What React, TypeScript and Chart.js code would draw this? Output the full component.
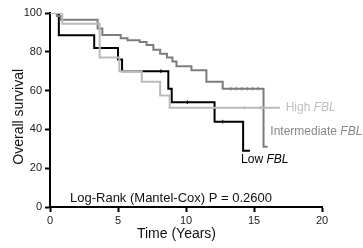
import React, { useEffect, useRef } from "react";
import { Chart, registerables } from "chart.js";

Chart.register(...registerables);

// ---- Data ----
const lowTimes = [0, 0.65, 3.25, 5.0, 5.3, 8.7, 8.95, 12.1, 14.2, 14.7];
const lowSurvival = [100, 88.5, 82, 76, 70, 61, 54, 44, 29, 29];

const intermediateTimes = [0, 0.5, 0.8, 3.5, 3.85, 5.2, 5.7, 6.6, 7.1, 7.6, 8.1, 8.6, 9.0, 9.3, 10.4, 11.5, 12.7, 15.7, 16.0];
const intermediateSurvival = [100, 98.5, 96.5, 92, 88.7, 87, 86, 85, 83.5, 81, 79, 77, 75, 72.5, 70.5, 64.5, 61, 31, 31];

const highTimes = [0, 0.9, 3.65, 5.1, 6.75, 8.1, 8.8, 16.9];
const highSurvival = [100, 94.5, 77, 70, 64.5, 57.5, 51.2, 51.2];

const lowCensorTimes = [8.15, 10.1, 12.7];
const lowCensorSurvival = [70, 54, 44];
const intermediateCensorTimes = [13.3, 13.7, 14.1, 14.5, 14.9, 15.3];
const intermediateCensorSurvival = [61, 61, 61, 61, 61, 61];
const highCensorTimes = [14.3, 15.5];
const highCensorSurvival = [51.2, 51.2];

const xTicks = [0, 5, 10, 15, 20];
const yTicks = [0, 20, 40, 60, 80, 100];

const xTitle = "Time (Years)";
const yTitle = "Overall survival";
const statText = "Log-Rank (Mantel-Cox) P = 0.2600";
const seriesNames = ["Low", "Intermediate", "High"];
const seriesSuffix = "FBL";

const COLORS = { low: "#000000", intermediate: "#7c7c7c", high: "#bababa" };
const FONT = "'Liberation Sans', Arial, Helvetica, sans-serif";

const toXY = (ts: number[], ss: number[]) => ts.map((t, i) => ({ x: t, y: ss[i] }));

const textPlugin = {
  id: "kmText",
  afterDraw(chart: any) {
    const { ctx, scales } = chart;
    const xs = scales.x;
    const ys = scales.y;
    ctx.save();
    // axis titles
    ctx.fillStyle = "#111";
    ctx.font = `14px ${FONT}`;
    ctx.textAlign = "center";
    ctx.textBaseline = "alphabetic";
    ctx.fillText(xTitle, xs.getPixelForValue(9.3), 238);
    ctx.save();
    ctx.translate(23, ys.getPixelForValue(46.5));
    ctx.rotate(-Math.PI / 2);
    ctx.fillText(yTitle, 0, 0);
    ctx.restore();
    // statistic
    ctx.font = `13px ${FONT}`;
    ctx.textAlign = "left";
    ctx.fillText(statText, xs.getPixelForValue(1.47), ys.getPixelForValue(2.6));

    // series labels
    const drawLabel = (name: string, color: string, t: number, s: number) => {
      const x = xs.getPixelForValue(t);
      const y = ys.getPixelForValue(s);
      ctx.fillStyle = color;
      ctx.textBaseline = "middle";
      ctx.textAlign = "left";
      ctx.font = `12px ${FONT}`;
      const first = name + " ";
      ctx.fillText(first, x, y);
      const w = ctx.measureText(first).width;
      ctx.font = `italic 12px ${FONT}`;
      ctx.fillText(seriesSuffix, x + w, y);
    };
    drawLabel(seriesNames[2], "#c0c0c0", 17.33, 51.2);
    drawLabel(seriesNames[1], "#888888", 16.2, 38.8);
    drawLabel(seriesNames[0], "#000000", 14.05, 24.2);
    ctx.restore();
  },
};

export default function App() {
  const ref = useRef<HTMLCanvasElement | null>(null);
  useEffect(() => {
    if (!ref.current) return;
    const lineDs = (label: string, ts: number[], ss: number[], color: string) => ({
      type: "line" as const,
      label,
      data: toXY(ts, ss),
      borderColor: color,
      borderWidth: 2,
      stepped: true,
      pointRadius: 0,
      fill: false,
    });
    const censorDs = (label: string, ts: number[], ss: number[], color: string) => ({
      type: "scatter" as const,
      label,
      data: toXY(ts, ss),
      showLine: false,
      pointStyle: "line",
      rotation: 90,
      pointRadius: 1.8,
      borderWidth: 1,
      borderColor: color,
      backgroundColor: color,
    });
    const chart = new Chart(ref.current, {
      type: "line",
      data: {
        datasets: [
          lineDs("High", highTimes, highSurvival, COLORS.high),
          lineDs("Intermediate", intermediateTimes, intermediateSurvival, COLORS.intermediate),
          lineDs("Low", lowTimes, lowSurvival, COLORS.low),
          censorDs("High censored", highCensorTimes, highCensorSurvival, COLORS.high),
          censorDs("Intermediate censored", intermediateCensorTimes, intermediateCensorSurvival, COLORS.intermediate),
          censorDs("Low censored", lowCensorTimes, lowCensorSurvival, COLORS.low),
        ] as any,
      },
      options: {
        responsive: false,
        animation: false,
        layout: { padding: { top: 13, right: 41, left: 0, bottom: 0 } },
        plugins: { legend: { display: false }, tooltip: { enabled: false } },
        scales: {
          x: {
            type: "linear",
            min: 0,
            max: 20,
            afterFit: (s: any) => { s.height = 41; },
            afterBuildTicks: (s: any) => { s.ticks = xTicks.map((v) => ({ value: v })); },
            grid: { display: true, drawOnChartArea: false, drawTicks: true, tickLength: 5, tickWidth: 2, tickColor: "#000" },
            border: { display: true, color: "#000", width: 2 },
            ticks: { color: "#222", font: { family: FONT, size: 11 }, padding: 2, maxRotation: 0 },
          },
          y: {
            type: "linear",
            min: 0,
            max: 100,
            afterFit: (s: any) => { s.width = 50; },
            afterBuildTicks: (s: any) => { s.ticks = yTicks.map((v) => ({ value: v })); },
            grid: { display: true, drawOnChartArea: false, drawTicks: true, tickLength: 5, tickWidth: 2, tickColor: "#000" },
            border: { display: true, color: "#000", width: 2 },
            ticks: { color: "#222", font: { family: FONT, size: 11 }, padding: 3 },
          },
        },
      } as any,
      plugins: [textPlugin],
    });
    return () => chart.destroy();
  }, []);
  return (
    <div style={{ position: "fixed", left: 0, top: 0, width: 363, height: 248, background: "#fff" }}>
      <canvas ref={ref} width={363} height={248} style={{ width: 363, height: 248, display: "block" }} />
    </div>
  );
}
